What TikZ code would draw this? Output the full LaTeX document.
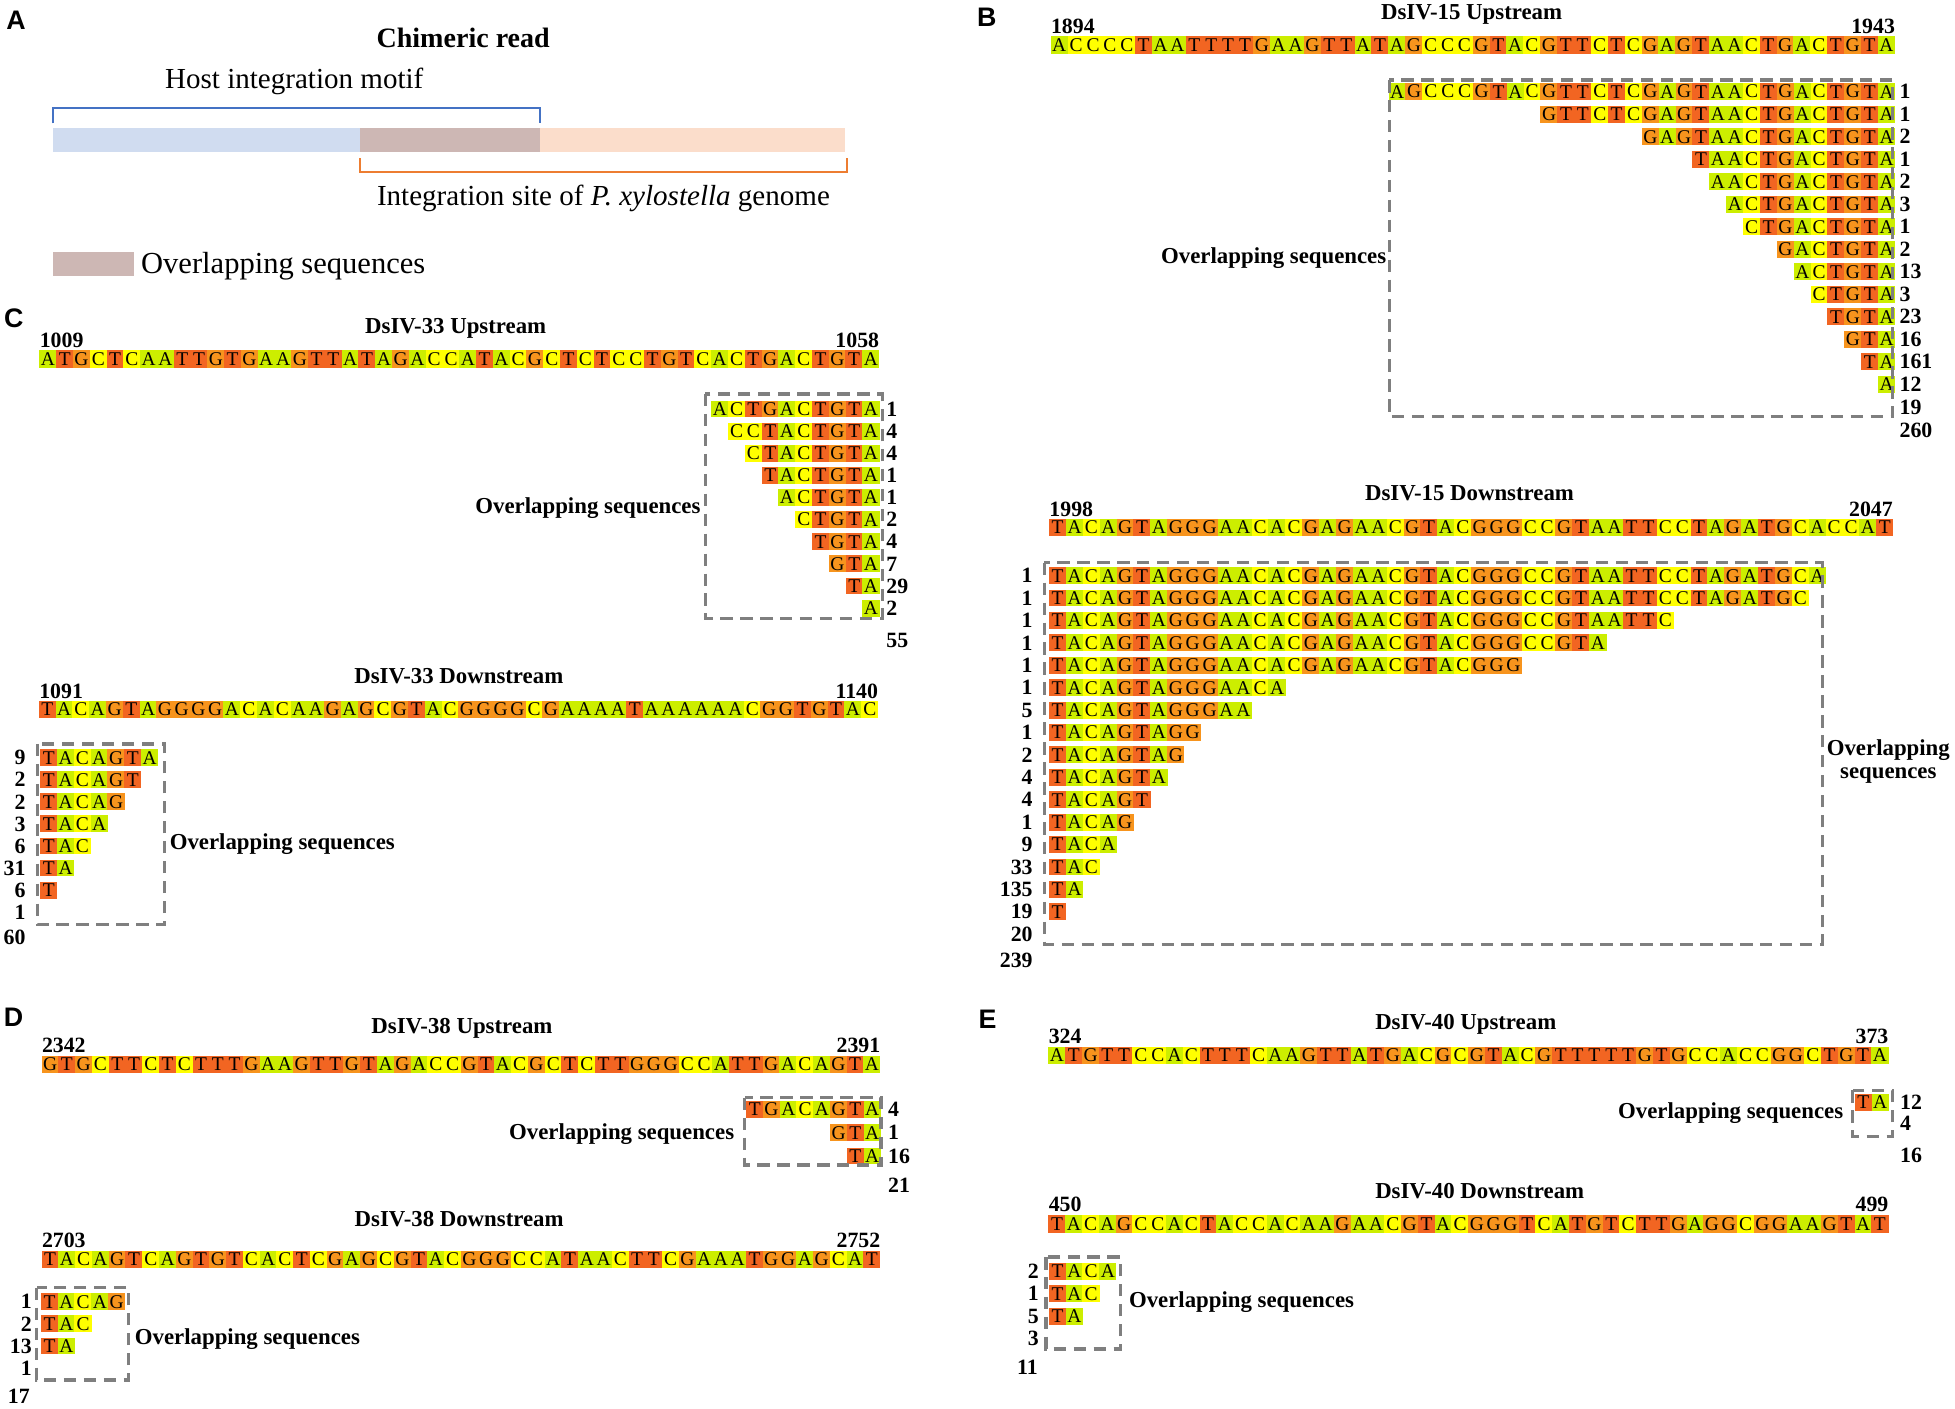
\documentclass[tikz,border=0pt]{standalone}
\usepackage{fontspec}
\setmainfont{Liberation Serif}
\newfontfamily\panelfont{Liberation Sans}
\definecolor{seqA}{HTML}{CCEE00}
\definecolor{seqC}{HTML}{FFFF00}
\definecolor{seqG}{HTML}{F7941D}
\definecolor{seqT}{HTML}{F26522}
\definecolor{boxgray}{HTML}{7F7F7F}
\definecolor{motifblue}{HTML}{4472C4}
\definecolor{siteorange}{HTML}{ED7D31}
\definecolor{barblue}{HTML}{D0DCF0}
\definecolor{barover}{HTML}{CDB7B4}
\definecolor{barpeach}{HTML}{FBDDCB}
\makeatletter
\newcount\sq@i
\newcount\sq@n
\def\cw{13.5}
\def\sq@len#1{\ifx#1\relax\else\global\advance\sq@n by 1 \expandafter\sq@len\fi}
\def\sq@draw#1{\ifx#1\relax\else\sq@cell{#1}\global\advance\sq@i by 1 \expandafter\sq@draw\fi}
\def\sq@cell#1{\node[nt#1, minimum height=\sq@h pt] at ({\sq@x+(\the\sq@i+0.5)*\cw},\sq@y) {#1};}
\newcommand\SeqL[4]{\def\sq@x{#1}\def\sq@y{#2}\def\sq@h{#3}\global\sq@i=0 \sq@draw#4\relax}
\newcommand\SeqR[4]{\global\sq@n=0 \sq@len#4\relax\pgfmathsetmacro\sq@x{#1-\the\sq@n*\cw}\def\sq@y{#2}\def\sq@h{#3}\global\sq@i=0 \sq@draw#4\relax}
\makeatother
\begin{document}
\begin{tikzpicture}[x=1pt,y=-1pt,
  cell/.style={rectangle, inner sep=0pt, outer sep=0pt, minimum width=\cw pt+0.3pt, text=black, font=\fontsize{15.6}{16}\selectfont},
  ntA/.style={cell, fill=seqA},
  ntC/.style={cell, fill=seqC},
  ntG/.style={cell, fill=seqG},
  ntT/.style={cell, fill=seqT},
  title/.style={inner sep=0pt, font=\fontsize{18.3}{20}\selectfont\bfseries},
  num/.style={inner sep=0pt, font=\fontsize{17.5}{19}\selectfont\bfseries},
  ovl/.style={inner sep=0pt, font=\fontsize{18.3}{20}\selectfont\bfseries},
  plabel/.style={inner sep=0pt, font=\panelfont\fontsize{21.5}{24}\selectfont\bfseries},
  atext/.style={inner sep=0pt, font=\fontsize{23.3}{26}\selectfont},
  dbox/.style={draw=boxgray, line width=2.6pt, dash pattern=on 10pt off 6pt}]
\useasboundingbox[fill=white] (0,0) rectangle (1568,1129.3);

% ---------------- Panel A ----------------
\node[plabel, anchor=base west] (labA) at (5,23.5) {A};
\node[inner sep=0pt, font=\fontsize{22.5}{25}\selectfont\bfseries, anchor=base] (chim) at (371.5,38) {Chimeric read};
\node[atext, anchor=base] (hostm) at (236,71) {Host integration motif};
\draw[motifblue, line width=1.6pt] (42.5,99) -- (42.5,87) -- (433,87) -- (433,99);
\fill[barblue] (42.5,102.4) rectangle (288.7,121.7);
\fill[barover] (288.7,102.4) rectangle (433,121.7);
\fill[barpeach] (433,102.4) rectangle (678,121.7);
\draw[siteorange, line width=1.6pt] (288.7,127) -- (288.7,137.7) -- (679,137.7) -- (679,127);
\node[atext, anchor=base] (site) at (484,164.5) {Integration site of \textit{P. xylostella} genome};
\fill[barover] (42.5,202) rectangle (107.4,221);
\node[inner sep=0pt, font=\fontsize{24.5}{27}\selectfont, anchor=base west] (legA) at (113,219) {Overlapping sequences};

% ---------------- Panel B ----------------
\node[plabel, anchor=base west] (labB) at (783.4,21.4) {B};
\def\cw{13.54}
\node[title, anchor=base] (t15u) at (1180.3,16) {DsIV-15 Upstream};
\SeqL{842.8}{36}{14}{ACCCCTAATTTTGAAGTTATAGCCCGTACGTTCTCGAGTAACTGACTGTA}
\node[num, anchor=base west] (p1894) at (842.8,26.7) {1894};
\node[num, anchor=base east] (p1943) at (1520,26.7) {1943};
\SeqR{1520}{73.5}{13.5}{AGCCCGTACGTTCTCGAGTAACTGACTGTA}
\SeqR{1520}{91.56}{13.5}{GTTCTCGAGTAACTGACTGTA}
\SeqR{1520}{109.62}{13.5}{GAGTAACTGACTGTA}
\SeqR{1520}{127.68}{13.5}{TAACTGACTGTA}
\SeqR{1520}{145.74}{13.5}{AACTGACTGTA}
\SeqR{1520}{163.8}{13.5}{ACTGACTGTA}
\SeqR{1520}{181.86}{13.5}{CTGACTGTA}
\SeqR{1520}{199.92}{13.5}{GACTGTA}
\SeqR{1520}{217.98}{13.5}{ACTGTA}
\SeqR{1520}{236.04}{13.5}{CTGTA}
\SeqR{1520}{254.1}{13.5}{TGTA}
\SeqR{1520}{272.16}{13.5}{GTA}
\SeqR{1520}{290.22}{13.5}{TA}
\SeqR{1520}{308.28}{13.5}{A}
\draw[dbox] (1114.4,64.2) rectangle (1518.1,334.2);
\foreach \k/\n in {1/1,2/1,3/2,4/1,5/2,6/3,7/1,8/2,9/13,10/3,11/23,12/16,13/161,14/12,15/19}
  \node[num, anchor=west] at (1523.4,{73.5+(\k-1)*18.06}) {\n};
\node[num, anchor=west] (s15u) at (1523.4,345.4) {260};
\node[ovl, anchor=base east] (o15u) at (1112,211) {Overlapping sequences};

\node[title, anchor=base] (t15d) at (1178.6,401.6) {DsIV-15 Downstream};
\SeqL{841.5}{423}{14}{TACAGTAGGGAACACGAGAACGTACGGGCCGTAATTCCTAGATGCACCAT}
\node[num, anchor=base west] (p1998) at (841.5,413.9) {1998};
\node[num, anchor=base east] (p2047) at (1518.3,413.9) {2047};
\SeqL{841.5}{461.7}{13.5}{TACAGTAGGGAACACGAGAACGTACGGGCCGTAATTCCTAGATGCA}
\SeqL{841.5}{479.67}{13.5}{TACAGTAGGGAACACGAGAACGTACGGGCCGTAATTCCTAGATGC}
\SeqL{841.5}{497.64}{13.5}{TACAGTAGGGAACACGAGAACGTACGGGCCGTAATTC}
\SeqL{841.5}{515.61}{13.5}{TACAGTAGGGAACACGAGAACGTACGGGCCGTA}
\SeqL{841.5}{533.58}{13.5}{TACAGTAGGGAACACGAGAACGTACGGG}
\SeqL{841.5}{551.55}{13.5}{TACAGTAGGGAACA}
\SeqL{841.5}{569.52}{13.5}{TACAGTAGGGAA}
\SeqL{841.5}{587.49}{13.5}{TACAGTAGG}
\SeqL{841.5}{605.46}{13.5}{TACAGTAG}
\SeqL{841.5}{623.43}{13.5}{TACAGTA}
\SeqL{841.5}{641.4}{13.5}{TACAGT}
\SeqL{841.5}{659.37}{13.5}{TACAG}
\SeqL{841.5}{677.34}{13.5}{TACA}
\SeqL{841.5}{695.31}{13.5}{TAC}
\SeqL{841.5}{713.28}{13.5}{TA}
\SeqL{841.5}{731.25}{13.5}{T}
\draw[dbox] (837.7,451.3) rectangle (1461.7,757.4);
\foreach \k/\n in {1/1,2/1,3/1,4/1,5/1,6/1,7/5,8/1,9/2,10/4,11/4,12/1,13/9,14/33,15/135,16/19,17/20}
  \node[num, anchor=east] at (828.4,{461.7+(\k-1)*17.97}) {\n};
\node[num, anchor=east] (s15d) at (828.4,770) {239};
\node[ovl, anchor=base] (o15da) at (1514.5,606) {Overlapping};
\node[ovl, anchor=base] (o15db) at (1514.5,624) {sequences};

% ---------------- Panel C ----------------
\node[plabel, anchor=base west] (labC) at (3.2,262.5) {C};
\def\cw{13.47}
\node[title, anchor=base] (t33u) at (365.5,267.4) {DsIV-33 Upstream};
\SeqL{31.7}{288}{14}{ATGCTCAATTGTGAAGTTATAGACCATACGCTCTCCTGTCACTGACTGTA}
\node[num, anchor=base west] (p1009) at (31.7,278.6) {1009};
\node[num, anchor=base east] (p1058) at (705.3,278.6) {1058};
\SeqR{705.3}{328}{13.5}{ACTGACTGTA}
\SeqR{705.3}{345.75}{13.5}{CCTACTGTA}
\SeqR{705.3}{363.5}{13.5}{CTACTGTA}
\SeqR{705.3}{381.25}{13.5}{TACTGTA}
\SeqR{705.3}{399}{13.5}{ACTGTA}
\SeqR{705.3}{416.75}{13.5}{CTGTA}
\SeqR{705.3}{434.5}{13.5}{TGTA}
\SeqR{705.3}{452.25}{13.5}{GTA}
\SeqR{705.3}{470}{13.5}{TA}
\SeqR{705.3}{487.75}{13.5}{A}
\draw[dbox] (565.6,316) rectangle (707.6,496);
\foreach \k/\n in {1/1,2/4,3/4,4/1,5/1,6/2,7/4,8/7,9/29,10/2}
  \node[num, anchor=west] at (710.8,{328+(\k-1)*17.75}) {\n};
\node[num, anchor=west] (s33u) at (710.8,513.3) {55};
\node[ovl, anchor=base east] (o33u) at (562,412) {Overlapping sequences};

\def\cw{13.46}
\node[title, anchor=base] (t33d) at (368,548) {DsIV-33 Downstream};
\SeqL{31.3}{569}{14}{TACAGTAGGGGACACAAGAGCGTACGGGGCGAAAATAAAAAACGGTGTAC}
\node[num, anchor=base west] (p1091) at (31.3,560) {1091};
\node[num, anchor=base east] (p1140) at (704.4,560) {1140};
\SeqL{32.5}{607.7}{13.5}{TACAGTA}
\SeqL{32.5}{625.4}{13.5}{TACAGT}
\SeqL{32.5}{643.1}{13.5}{TACAG}
\SeqL{32.5}{660.8}{13.5}{TACA}
\SeqL{32.5}{678.5}{13.5}{TAC}
\SeqL{32.5}{696.2}{13.5}{TA}
\SeqL{32.5}{713.9}{13.5}{T}
\draw[dbox] (29.9,596.7) rectangle (132.1,741.4);
\foreach \k/\n in {1/9,2/2,3/2,4/3,5/6,6/31,7/6,8/1}
  \node[num, anchor=east] at (20.7,{607.7+(\k-1)*17.7}) {\n};
\node[num, anchor=east] (s33d) at (20.7,751.8) {60};
\node[ovl, anchor=base west] (o33d) at (136,681) {Overlapping sequences};

% ---------------- Panel D ----------------
\node[plabel, anchor=base west] (labD) at (3,823.4) {D};
\def\cw{13.45}
\node[title, anchor=base] (t38u) at (370.5,828.8) {DsIV-38 Upstream};
\SeqL{33.5}{853.7}{14}{GTGCTTCTCTTTGAAGTTGTAGACCGTACGCTCTTGGGCCATTGACAGTA}
\node[num, anchor=base west] (p2342) at (33.5,844.3) {2342};
\node[num, anchor=base east] (p2391) at (706.2,844.3) {2391};
\SeqR{706.2}{889.7}{13.5}{TGACAGTA}
\SeqR{706.2}{908.5}{13.5}{GTA}
\SeqR{706.2}{927.2}{13.5}{TA}
\draw[dbox] (597.3,880.4) rectangle (706.6,934.4);
\foreach \y/\n in {889.7/4,908.5/1,927.2/16}
  \node[num, anchor=west] at (712.2,\y) {\n};
\node[num, anchor=west] (s38u) at (712.2,950.4) {21};
\node[ovl, anchor=base east] (o38u) at (589,914) {Overlapping sequences};

\node[title, anchor=base] (t38d) at (368.3,983.8) {DsIV-38 Downstream};
\SeqL{33.5}{1010}{14}{TACAGTCAGTGTCACTCGAGCGTACGGGCCATAACTTCGAAATGGAGCAT}
\node[num, anchor=base west] (p2703) at (33.5,1000.8) {2703};
\node[num, anchor=base east] (p2752) at (706.2,1000.8) {2752};
\SeqL{33}{1044}{13.5}{TACAG}
\SeqL{33}{1061.8}{13.5}{TAC}
\SeqL{33}{1079.6}{13.5}{TA}
\draw[dbox] (29.3,1032.8) rectangle (103.3,1106.8);
\foreach \y/\n in {1044/1,1061.8/2,1079.6/13,1097.4/1}
  \node[num, anchor=east] at (25.6,\y) {\n};
\node[num, anchor=east] (s38d) at (24,1120.2) {17};
\node[ovl, anchor=base west] (o38d) at (108,1078) {Overlapping sequences};

% ---------------- Panel E ----------------
\node[plabel, anchor=base west] (labE) at (784.6,824.5) {E};
\def\cw{13.47}
\node[title, anchor=base] (t40u) at (1175.6,825.3) {DsIV-40 Upstream};
\SeqL{841}{846.5}{14}{ATGTTCCACTTTCAAGTTATGACGCGTACGTTTTTGTGCCACCGGCTGTA}
\node[num, anchor=base west] (p324) at (841,837.1) {324};
\node[num, anchor=base east] (p373) at (1514.7,837.1) {373};
\SeqR{1514.7}{884.1}{13.5}{TA}
\draw[dbox] (1486,874.5) rectangle (1517.7,911.4);
\foreach \y/\n in {884.1/12,900.7/4}
  \node[num, anchor=west] at (1523.8,\y) {\n};
\node[num, anchor=west] (s40u) at (1523.8,926.9) {16};
\node[ovl, anchor=base east] (o40u) at (1478.5,897) {Overlapping sequences};

\node[title, anchor=base] (t40d) at (1186.8,960.9) {DsIV-40 Downstream};
\SeqL{841}{981.6}{14}{TACAGCCACTACCACAAGAACGTACGGGTCATGTCTTGAGGCGGAAGTAT}
\node[num, anchor=base west] (p450) at (841,971.5) {450};
\node[num, anchor=base east] (p499) at (1514.7,971.5) {499};
\SeqL{841.4}{1019.7}{13.5}{TACA}
\SeqL{841.4}{1037.6}{13.5}{TAC}
\SeqL{841.4}{1055.8}{13.5}{TA}
\draw[dbox] (839,1008.2) rectangle (898.8,1082);
\foreach \y/\n in {1019.7/2,1037.6/1,1055.8/5,1073.2/3}
  \node[num, anchor=east] at (833.4,\y) {\n};
\node[num, anchor=east] (s40d) at (832.5,1096.4) {11};
\node[ovl, anchor=base west] (o40d) at (905.3,1049) {Overlapping sequences};
\end{tikzpicture}
\end{document}
